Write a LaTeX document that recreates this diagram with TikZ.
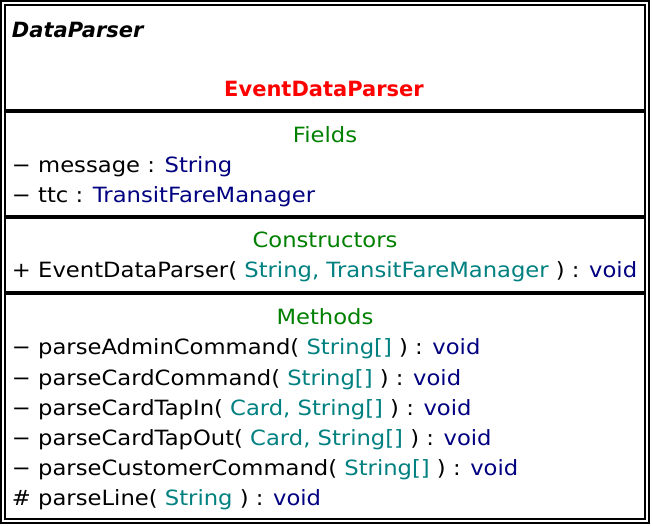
\documentclass[tikz,border=0pt]{standalone}
\usepackage{fontspec}
\setmainfont{DejaVu Sans}[FakeStretch=1.08]
\newfontfamily\titlefont{DejaVu Sans}
\definecolor{umlred}{RGB}{255,0,0}
\definecolor{umlgreen}{RGB}{0,128,0}
\definecolor{umlnavy}{RGB}{0,0,128}
\definecolor{umlteal}{RGB}{0,128,128}
\begin{document}
\begin{tikzpicture}[x=1pt,y=-1pt,
  txt/.style={inner sep=0pt,outer sep=0pt,font=\fontsize{21}{25}\selectfont},
  lft/.style={txt,anchor=base west},
  ctr/.style={txt,anchor=base},
  frame/.style={draw=black,line width=2pt},
  sep/.style={draw=black,line width=4pt}]
\useasboundingbox (0,0) rectangle (653,526);
\draw[frame] (1,1) rectangle (649,523);
\draw[frame] (5,5) rectangle (645,519);
\coordinate (s1l) at (5,111.5); \coordinate (s1r) at (645,111.5);
\coordinate (s2l) at (5,217); \coordinate (s2r) at (645,217);
\coordinate (s3l) at (5,293); \coordinate (s3r) at (645,293);
\draw[sep] (s1l) -- (s1r);
\draw[sep] (s2l) -- (s2r);
\draw[sep] (s3l) -- (s3r);
\node[lft,font=\fontsize{21}{25}\selectfont\titlefont\bfseries\itshape] (super) at (12,38) {DataParser};
\node[ctr,font=\fontsize{21}{25}\selectfont\titlefont\bfseries,text=umlred] (name) at (324,97) {EventDataParser};
\node[ctr,text=umlgreen] (fields) at (325,143) {Fields};
\node[lft] (f1) at (12,173) {− message : \textcolor{umlnavy}{String}};
\node[lft] (f2) at (12,203) {− ttc : \textcolor{umlnavy}{TransitFareManager}};
\node[ctr,text=umlgreen] (ctors) at (325,248) {Constructors};
\node[lft] (c1) at (12,278) {+ EventDataParser( \textcolor{umlteal}{String, TransitFareManager} ) : \textcolor{umlnavy}{void}};
\node[ctr,text=umlgreen] (methods) at (325,325) {Methods};
\node[lft] (m1) at (12,355) {− parseAdminCommand( \textcolor{umlteal}{String[]} ) : \textcolor{umlnavy}{void}};
\node[lft] (m2) at (12,385) {− parseCardCommand( \textcolor{umlteal}{String[]} ) : \textcolor{umlnavy}{void}};
\node[lft] (m3) at (12,415) {− parseCardTapIn( \textcolor{umlteal}{Card, String[]} ) : \textcolor{umlnavy}{void}};
\node[lft] (m4) at (12,445) {− parseCardTapOut( \textcolor{umlteal}{Card, String[]} ) : \textcolor{umlnavy}{void}};
\node[lft] (m5) at (12,475) {− parseCustomerCommand( \textcolor{umlteal}{String[]} ) : \textcolor{umlnavy}{void}};
\node[lft] (m6) at (12,505) {\# parseLine( \textcolor{umlteal}{String} ) : \textcolor{umlnavy}{void}};
\end{tikzpicture}
\end{document}
